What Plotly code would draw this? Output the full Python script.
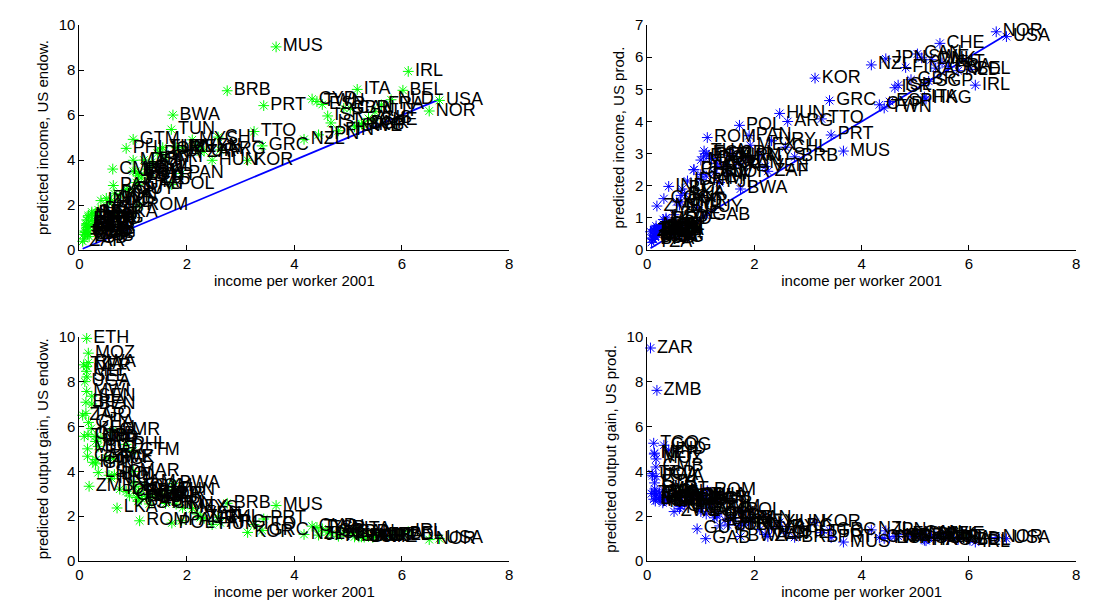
import plotly.graph_objects as go

COUNTRIES = ["USA","NOR","IRL","BEL","NLD","FRA","AUT","CHE","AUS","DNK","HKG","ITA","SWE","CAN","SGP",
             "GBR","FIN","ISL","ISR","ESP","JPN","TWN","CYP","NZL","MUS","PRT","GRC","TTO","KOR","BRB",
             "ARG","CHL","HUN","URY","ZAF","VEN","MYS","MEX","PAN","IRN","BWA","POL","TUN","CRI","TUR",
             "JOR","BRA","FJI","COL","SYR","SLV","DOM","PER","ROM","ECU","PRY","GAB","THA","EGY","GTM",
             "MAR","JAM","GUY","PHL","CIV","IDN","LKA","BOL","PAK","CMR","NIC","HND","ZWE","IND","BGD",
             "LSO","COG","GIN","MRT","NPL","HTI","SEN","BEN","KEN","ZMB","GHA","MOZ","RWA","GMB","CAF",
             "MDG","SLE","ETH","NER","MWI","MLI","TGO","BFA","UGA","TCD","TZA","ZAR"]

INCOME_2001 = [6.70,6.51,6.12,6.02,5.80,5.62,5.50,5.46,5.38,5.30,5.20,5.17,5.12,5.04,5.25,
               4.92,4.82,4.68,4.62,4.52,4.45,4.42,4.33,4.18,3.66,3.43,3.40,3.25,3.13,2.75,
               2.62,2.58,2.47,2.32,2.25,2.20,2.10,1.92,1.90,1.80,1.74,1.72,1.71,1.60,1.55,
               1.50,1.45,1.35,1.30,1.30,1.25,1.20,1.15,1.12,1.10,1.10,1.09,1.06,1.05,1.00,
               1.00,1.00,0.93,0.87,0.87,0.75,0.70,0.65,0.63,0.62,0.60,0.55,0.50,0.40,0.35,
               0.35,0.31,0.30,0.30,0.29,0.25,0.23,0.23,0.22,0.18,0.17,0.165,0.165,0.16,0.15,
               0.15,0.14,0.135,0.135,0.135,0.13,0.12,0.12,0.10,0.09,0.08,0.06]

PRED_INCOME_US_ENDOW = [6.65,6.18,7.94,7.10,6.68,6.45,6.15,5.75,5.85,5.62,5.55,7.14,5.48,6.30,5.60,
                        6.30,5.30,5.65,5.96,6.47,5.12,6.60,6.71,4.92,9.03,6.42,4.63,5.27,3.99,7.08,
                        4.45,5.02,3.99,4.40,4.35,4.60,4.90,4.55,3.40,4.55,6.00,2.91,5.36,4.10,4.55,
                        4.45,4.30,3.90,3.70,3.30,3.60,4.00,3.20,2.00,3.30,3.40,2.90,3.00,3.50,4.92,
                        3.99,3.50,2.70,4.52,2.70,2.40,1.65,2.50,2.87,3.60,2.20,2.10,2.30,2.20,1.79,
                        1.38,1.40,1.30,1.60,1.61,1.10,1.69,1.61,1.30,0.60,1.05,1.53,1.46,0.90,0.70,
                        0.75,1.15,1.34,1.17,1.02,1.10,0.79,0.85,0.80,0.50,0.70,0.39]

PRED_INCOME_US_PROD = [6.64,6.79,5.13,5.62,5.58,5.70,5.82,6.43,5.66,5.92,4.70,4.76,5.98,6.10,5.25,
                       5.30,5.68,5.13,5.05,4.62,5.95,4.42,4.52,5.76,3.08,3.58,4.65,4.08,5.35,2.90,
                       4.00,3.20,4.25,3.40,2.45,2.60,2.95,3.26,3.56,2.90,1.90,3.88,2.70,3.00,2.95,
                       2.40,2.65,2.10,2.70,2.60,2.40,2.85,2.95,3.50,3.00,2.30,1.08,3.08,2.90,2.35,
                       2.80,2.20,1.33,2.50,2.50,2.15,1.75,1.90,1.70,1.50,1.40,1.50,1.10,1.98,0.95,
                       1.00,1.60,0.80,0.95,0.75,0.70,0.70,0.65,0.60,1.37,0.50,0.75,0.62,0.67,0.45,
                       0.40,0.45,0.47,0.65,0.42,0.62,0.63,0.33,0.38,0.35,0.24,0.57]

GAIN_US_ENDOW = [0.99,0.95,1.30,1.18,1.15,1.15,1.12,1.05,1.09,1.06,1.07,1.38,1.07,1.25,1.07,
                 1.28,1.10,1.21,1.29,1.43,1.15,1.49,1.55,1.18,2.47,1.87,1.36,1.62,1.27,2.57,
                 1.70,1.95,1.62,1.90,1.93,2.09,2.33,2.37,1.79,2.53,3.45,1.69,3.13,2.56,2.94,
                 2.97,2.97,2.89,2.85,2.54,2.88,3.33,2.78,1.79,3.00,3.09,2.66,2.83,3.33,4.92,
                 3.99,3.50,2.90,5.20,3.10,3.20,2.36,3.85,4.56,5.81,3.67,3.82,4.60,5.50,5.11,
                 3.94,4.52,4.33,5.33,5.55,4.40,7.35,7.00,5.91,3.33,6.18,9.27,8.85,5.63,4.67,
                 5.00,8.21,9.93,8.67,7.56,8.46,6.58,7.08,8.00,5.56,8.75,6.50]

GAIN_US_PROD = [0.99,1.04,0.84,0.93,0.96,1.01,1.06,1.18,1.05,1.12,0.90,0.92,1.17,1.21,1.00,
                1.08,1.18,1.10,1.09,1.02,1.34,1.00,1.04,1.38,0.84,1.04,1.37,1.26,1.71,1.05,
                1.53,1.24,1.72,1.47,1.09,1.18,1.40,1.70,1.87,1.61,1.09,2.26,1.58,1.88,1.90,
                1.60,1.83,1.56,2.08,2.00,1.92,2.38,2.57,3.13,2.73,2.09,0.99,2.91,2.76,2.35,
                2.80,2.20,1.43,2.87,2.87,2.87,2.50,2.92,2.70,2.42,2.33,2.73,2.20,4.95,2.71,
                2.86,5.16,2.67,3.17,2.59,2.80,3.04,2.83,2.73,7.61,2.94,4.55,3.76,4.19,3.00,
                2.67,3.21,3.48,4.81,3.11,4.77,5.25,2.75,3.80,3.89,3.00,9.50]

X_TICKS = [0, 2, 4, 6, 8]
Y_TICKS_ENDOW = [0, 2, 4, 6, 8, 10]
Y_TICKS_PROD = [0, 1, 2, 3, 4, 5, 6, 7]
X_TITLE = "income per worker 2001"
Y_TITLES = ["predicted income, US endow.", "predicted income, US prod.",
            "predicted output gain, US endow.", "predicted output gain, US prod."]

FONT = "Liberation Sans, Arial, Helvetica, sans-serif"
GREEN = "#00FF00"
BLUE = "#0000FF"

fig = go.Figure()

panels = [
    ("x", "y", PRED_INCOME_US_ENDOW, GREEN, True),
    ("x2", "y2", PRED_INCOME_US_PROD, BLUE, True),
    ("x3", "y3", GAIN_US_ENDOW, GREEN, False),
    ("x4", "y4", GAIN_US_PROD, BLUE, False),
]

lo, hi = min(INCOME_2001), max(INCOME_2001)
for xa, ya, yv, col, with_line in panels:
    if with_line:
        fig.add_trace(go.Scatter(x=[lo, hi], y=[lo, hi], mode="lines", xaxis=xa, yaxis=ya,
                                 line=dict(color=BLUE, width=1.8), showlegend=False,
                                 hoverinfo="skip"))
    fig.add_trace(go.Scatter(
        x=INCOME_2001, y=yv, text=COUNTRIES, mode="markers+text", xaxis=xa, yaxis=ya,
        textposition="middle right", cliponaxis=False,
        textfont=dict(family=FONT, size=18, color="black"),
        marker=dict(symbol="asterisk-open", size=9, color=col, line=dict(color=col, width=1)),
        showlegend=False))

W, H = 1094, 610
left_dom = [76 / W, 509 / W]
right_dom = [648 / W, 1080 / W]
top_dom = [1 - 248 / H, 1 - 16.5 / H]
bot_dom = [1 - 567.7 / H, 1 - 337.2 / H]

def xax(dom, anchor):
    return dict(domain=dom, anchor=anchor, range=[0, 8], tickvals=X_TICKS,
                showline=True, linecolor="black", linewidth=1, ticks="inside", ticklen=5,
                tickcolor="black", showgrid=False, zeroline=False,
                tickfont=dict(family=FONT, size=15, color="black"),
                title=dict(text=X_TITLE, font=dict(family=FONT, size=15, color="black"), standoff=2))

def yax(dom, anchor, rng, ticks, title):
    return dict(domain=dom, anchor=anchor, range=rng, tickvals=ticks,
                showline=True, linecolor="black", linewidth=1, ticks="inside", ticklen=5,
                tickcolor="black", showgrid=False, zeroline=False,
                tickfont=dict(family=FONT, size=15, color="black"),
                title=dict(text=title, font=dict(family=FONT, size=15, color="black"), standoff=6))

fig.update_layout(
    width=W, height=H, margin=dict(l=0, r=0, t=0, b=0),
    paper_bgcolor="white", plot_bgcolor="white",
    xaxis=xax(left_dom, "y"), yaxis=yax(top_dom, "x", [0, 10], Y_TICKS_ENDOW, Y_TITLES[0]),
    xaxis2=xax(right_dom, "y2"), yaxis2=yax(top_dom, "x2", [0, 7], Y_TICKS_PROD, Y_TITLES[1]),
    xaxis3=xax(left_dom, "y3"), yaxis3=yax(bot_dom, "x3", [0, 10], Y_TICKS_ENDOW, Y_TITLES[2]),
    xaxis4=xax(right_dom, "y4"), yaxis4=yax(bot_dom, "x4", [0, 10], Y_TICKS_ENDOW, Y_TITLES[3]),
)

fig.write_html("out.html", config={"displayModeBar": False},
               post_script="document.body.style.margin='0';")
